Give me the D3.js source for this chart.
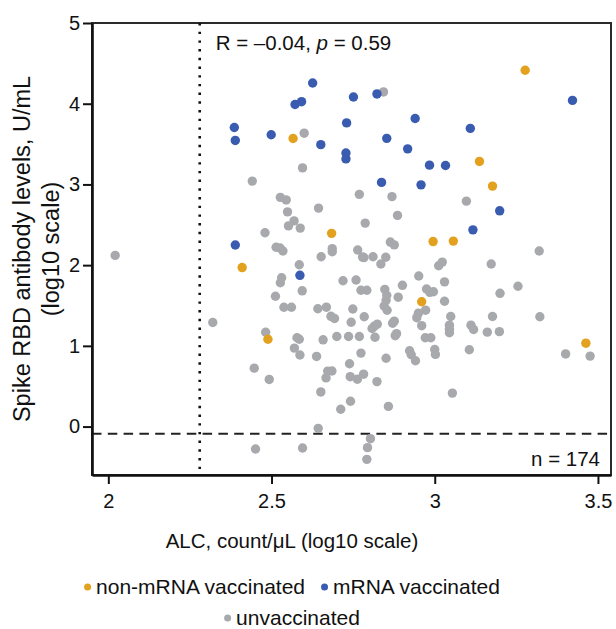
<!DOCTYPE html>
<html>
<head>
<meta charset="utf-8">
<script src="https://cdn.jsdelivr.net/npm/d3@7"></script>
<style>
  body { margin: 0; background: #fff; }
  text { font-family: "Liberation Sans", Arial, sans-serif; fill: #111; }
</style>
</head>
<body>
<div id="chart"></div>
<script>
// ALC (log10) vs spike RBD antibody (log10), one array of [x, y] per group
const mrnaPoints = [
  [2.386, 3.705], [2.389, 3.545], [2.499, 3.616], [2.389, 2.249], [2.626, 4.256],
  [2.572, 3.990], [2.592, 4.025], [2.751, 4.083], [2.823, 4.121], [2.730, 3.762],
  [2.940, 3.817], [2.651, 3.493], [2.853, 3.571], [2.917, 3.441], [2.728, 3.390],
  [2.728, 3.316], [2.984, 3.239], [3.033, 3.235], [2.837, 3.025], [2.958, 2.995],
  [3.109, 3.694], [3.422, 4.041], [3.199, 2.673], [3.117, 2.437], [2.587, 1.874]
];

const nonMrnaPoints = [
  [2.566, 3.569], [3.277, 4.415], [3.137, 3.285], [3.177, 2.979], [2.684, 2.394],
  [2.995, 2.292], [3.057, 2.298], [2.410, 1.970], [2.489, 1.082], [2.960, 1.546],
  [3.463, 1.033]
];

const unvaxPoints = [
  [2.441, 3.041], [2.480, 2.401], [2.021, 2.121], [2.600, 3.635], [2.595, 3.205],
  [2.527, 2.840], [2.545, 2.808], [2.549, 2.660], [2.569, 2.548], [2.552, 2.486],
  [2.588, 2.459], [2.514, 2.222], [2.526, 2.212], [2.535, 2.175], [2.843, 4.146],
  [2.769, 2.877], [2.869, 2.849], [2.644, 2.707], [2.886, 2.616], [2.787, 2.521],
  [2.864, 2.286], [2.876, 2.251], [2.686, 2.205], [2.686, 2.166], [2.764, 2.187],
  [3.320, 2.175], [2.652, 2.104], [2.779, 2.100], [2.811, 2.104], [2.850, 2.098],
  [3.097, 2.793], [2.835, 2.014], [3.012, 1.993], [3.023, 2.038], [3.173, 2.014],
  [2.719, 1.806], [2.759, 1.816], [2.774, 1.689], [2.792, 1.689], [2.847, 1.700],
  [2.853, 1.626], [2.851, 1.564], [2.845, 1.494], [2.854, 1.441], [2.888, 1.603],
  [2.901, 1.750], [2.951, 1.865], [2.975, 1.704], [2.985, 1.663], [2.996, 1.670],
  [3.030, 1.793], [3.030, 1.553], [2.972, 1.442], [2.950, 1.405], [2.945, 1.349],
  [2.960, 1.250], [2.971, 1.101], [2.988, 1.101], [3.000, 0.955], [3.002, 0.894],
  [3.049, 1.364], [3.045, 1.256], [3.045, 1.205], [3.045, 1.163], [3.054, 0.415],
  [3.106, 0.952], [3.111, 1.256], [3.119, 1.203], [3.161, 1.170], [3.177, 1.364],
  [3.198, 1.176], [3.200, 1.651], [3.255, 1.739], [3.322, 1.361], [3.401, 0.900],
  [3.476, 0.873], [2.642, 1.460], [2.668, 1.479], [2.682, 1.366], [2.693, 1.339],
  [2.749, 1.457], [2.744, 1.293], [2.784, 1.361], [2.808, 1.215], [2.815, 1.244],
  [2.824, 1.269], [2.871, 1.281], [2.876, 1.306], [2.879, 1.126], [2.883, 1.151],
  [2.817, 1.106], [2.769, 1.116], [2.736, 1.116], [2.700, 1.116], [2.658, 1.075],
  [2.774, 0.910], [2.851, 0.847], [2.923, 0.939], [2.928, 0.890], [2.941, 0.816],
  [2.638, 0.869], [2.739, 0.778], [2.672, 0.687], [2.685, 0.689], [2.667, 0.603],
  [2.741, 0.618], [2.763, 0.587], [2.782, 0.649], [2.823, 0.557], [2.651, 0.429],
  [2.742, 0.314], [2.712, 0.215], [2.858, 0.250], [2.643, -0.022], [2.595, -0.266],
  [2.803, -0.150], [2.794, -0.261], [2.792, -0.406], [2.585, 2.005], [2.531, 1.844],
  [2.527, 1.782], [2.594, 1.682], [2.512, 1.614], [2.538, 1.478], [2.561, 1.478],
  [2.482, 1.168], [2.578, 1.101], [2.585, 1.082], [2.570, 0.972], [2.587, 0.887],
  [2.493, 0.584], [2.320, 1.290], [2.447, 0.724], [2.451, -0.278], [2.783, 2.094]
];

const xTicks = [2, 2.5, 3, 3.5];
const yTicks = [0, 1, 2, 3, 4, 5];
const alcCutoff = 2.28;      // vertical dotted line
const rbdCutoff = -0.09;     // horizontal dashed line
const statsR = "–0.04";
const statsP = "0.59";
const nTotal = 174;

const groups = [
  { name: "non-mRNA vaccinated", color: "#e2a21f" },
  { name: "mRNA vaccinated", color: "#3a5cb0" },
  { name: "unvaccinated", color: "#a8a9ad" }
];

const W = 616, H = 629;
const margin = { top: 23, right: 5, bottom: 154, left: 92 };
const width = W - margin.left - margin.right;
const height = H - margin.top - margin.bottom;

const svg = d3.select("#chart").append("svg")
    .attr("width", W)
    .attr("height", H);

const g = svg.append("g")
    .attr("transform", "translate(" + margin.left + "," + margin.top + ")");

const x = d3.scaleLinear().domain([1.95, 3.54]).range([0, width]);
const y = d3.scaleLinear().domain([-0.6, 5]).range([height, 0]);

// frame
g.append("rect")
    .attr("width", width)
    .attr("height", height)
    .attr("fill", "none")
    .attr("stroke", "#2a2a2a")
    .attr("stroke-width", 2);

// reference lines
g.append("line")
    .attr("x1", x(alcCutoff)).attr("x2", x(alcCutoff))
    .attr("y1", 0).attr("y2", height)
    .attr("stroke", "#111")
    .attr("stroke-width", 2.6)
    .attr("stroke-dasharray", "2.4,6.3");

g.append("line")
    .attr("x1", 0).attr("x2", width)
    .attr("y1", y(rbdCutoff)).attr("y2", y(rbdCutoff))
    .attr("stroke", "#222")
    .attr("stroke-width", 2)
    .attr("stroke-dasharray", "9.5,6.3");

// points: grey underneath, vaccinated on top
function drawGroup(points, color) {
    g.append("g").selectAll("circle")
        .data(points)
        .enter().append("circle")
        .attr("cx", d => x(d[0]))
        .attr("cy", d => y(d[1]))
        .attr("r", 4.7)
        .attr("fill", color);
}
drawGroup(unvaxPoints, groups[2].color);
drawGroup(nonMrnaPoints, groups[0].color);
drawGroup(mrnaPoints, groups[1].color);

// axes
const xAxis = g.append("g")
    .attr("transform", "translate(0," + height + ")")
    .call(d3.axisBottom(x).tickValues(xTicks).tickFormat(d3.format("")).tickSize(9).tickSizeOuter(0).tickPadding(10));

const yAxis = g.append("g")
    .call(d3.axisLeft(y).tickValues(yTicks).tickFormat(d3.format("d")).tickSize(9).tickSizeOuter(0).tickPadding(3));

[xAxis, yAxis].forEach(function(a) {
    a.select(".domain").attr("stroke", "#111").attr("stroke-width", 2.6);
    a.selectAll(".tick line").attr("stroke", "#111").attr("stroke-width", 2);
    a.selectAll(".tick text")
        .attr("font-size", 20)
        .attr("font-family", "Liberation Sans, Arial, sans-serif")
        .attr("fill", "#111");
});

// stats annotations
const stat = g.append("text")
    .attr("x", x(alcCutoff) + 16)
    .attr("y", 27)
    .attr("font-size", 20.5);
stat.append("tspan").text("R = " + statsR + ", ");
stat.append("tspan").attr("font-style", "italic").text("p");
stat.append("tspan").text(" = " + statsP);

g.append("text")
    .attr("x", width - 11)
    .attr("y", height - 9)
    .attr("text-anchor", "end")
    .attr("font-size", 20.5)
    .text("n = " + nTotal);

// axis titles
svg.append("text")
    .attr("x", 292)
    .attr("y", 548)
    .attr("text-anchor", "middle")
    .attr("font-size", 20.5)
    .text("ALC, count/μL (log10 scale)");

const yTitle = svg.append("text")
    .attr("transform", "translate(30," + (margin.top + height / 2) + ") rotate(-90)")
    .attr("text-anchor", "middle")
    .attr("font-size", 23.5);
yTitle.append("tspan").attr("x", 0).attr("dy", 0).text("Spike RBD antibody levels, U/mL");
yTitle.append("tspan").attr("x", 0).attr("dy", 29).text("(log10 scale)");

// legend
const legendRows = [
    { items: [groups[0], groups[1]], y: 587 },
    { items: [groups[2]], y: 618 }
];
legendRows.forEach(function(row) {
    const rowG = svg.append("g");
    let cx = 0;
    row.items.forEach(function(item, i) {
        if (i > 0) cx += 16;
        rowG.append("circle")
            .attr("cx", cx + 3.5)
            .attr("cy", row.y)
            .attr("r", 3.5)
            .attr("fill", item.color);
        const t = rowG.append("text")
            .attr("x", cx + 12)
            .attr("y", row.y + 7)
            .attr("font-size", 21)
            .text(item.name);
        cx += 12 + t.node().getComputedTextLength();
    });
    rowG.attr("transform", "translate(" + (292 - cx / 2) + ",0)");
});
</script>
</body>
</html>
